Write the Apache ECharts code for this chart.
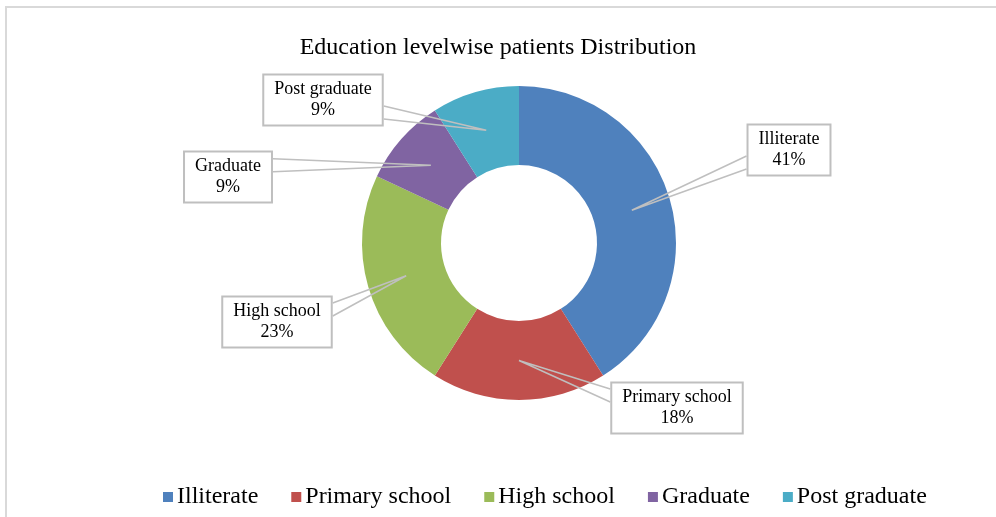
<!DOCTYPE html>
<html>
<head>
<meta charset="utf-8">
<script src="https://cdn.jsdelivr.net/npm/echarts@6/dist/echarts.min.js"></script>
<style>
  html, body { margin: 0; padding: 0; background: #fff; }
  #chart { width: 996px; height: 517px; }
</style>
</head>
<body>
<div id="chart"></div>
<script>
// data (percent of patients)
const categories = ["Illiterate", "Primary school", "High school", "Graduate", "Post graduate"];
const shares = [41, 18, 23, 9, 9];
const colors = ["#4F81BD", "#C0504D", "#9BBB59", "#8064A2", "#4BACC6"];

// callout box centres (layout only)
const calloutPos = [[789, 150], [677, 408], [277, 322], [228, 177], [323, 100]];

const cx = 519, cy = 243, rIn = 78, rOut = 157;
const total = shares.reduce((a, b) => a + b, 0);

// tip of the callout pointer: middle of the ring at the slice's mid-angle
function tipPoint(idx) {
  let before = 0;
  for (let i = 0; i < idx; i++) before += shares[i];
  const mid = (before + shares[idx] / 2) / total * Math.PI * 2;
  const r = (rIn + rOut) / 2;
  return [cx + r * Math.sin(mid), cy - r * Math.cos(mid)];
}

const pieData = categories.map((name, i) => ({ name: name, value: shares[i] }));

const chart = echarts.init(document.getElementById("chart"));

chart.setOption({
  backgroundColor: "#fff",
  color: colors,
  textStyle: { fontFamily: "Liberation Serif" },
  title: {
    text: "Education levelwise patients Distribution",
    left: "center",
    top: 31,
    textStyle: { fontFamily: "Liberation Serif", fontSize: 24, fontWeight: "normal", color: "#000" },
  },
  legend: {
    bottom: 3,
    left: 158,
    icon: "rect",
    itemWidth: 10,
    itemHeight: 10,
    itemGap: 33,
    textStyle: { fontFamily: "Liberation Serif", fontSize: 24, color: "#000", padding: [0, 0, 0, -1] },
    data: categories,
  },
  graphic: [
    {
      type: "rect",
      shape: { x: 6, y: 7, width: 1000, height: 520 },
      style: { fill: null, stroke: "#d9d9d9", lineWidth: 2 },
      silent: true,
    },
  ],
  series: [
    {
      // the ring itself
      type: "pie",
      z: 2,
      center: [cx, cy],
      radius: [rIn, rOut],
      startAngle: 90,
      label: { show: false },
      labelLine: { show: false },
      emphasis: { disabled: true },
      data: pieData,
    },
    {
      // transparent copy on top, carries the callouts so the pointers sit over the ring
      type: "pie",
      z: 3,
      silent: true,
      center: [cx, cy],
      radius: [rIn, rOut],
      startAngle: 90,
      avoidLabelOverlap: false,
      itemStyle: { color: "rgba(0,0,0,0)" },
      label: {
        show: true,
        position: "outside",
        formatter: (p) => p.name + "\n" + Math.round(p.percent) + "%",
        fontFamily: "Liberation Serif",
        fontSize: 18,
        lineHeight: 21,
        color: "#000",
        align: "center",
        backgroundColor: "#fff",
        borderColor: "#bfbfbf",
        borderWidth: 2,
        padding: [4, 10, 3, 10],
      },
      labelLine: {
        show: true,
        lineStyle: { color: "#bfbfbf", width: 1.5 },
      },
      labelLayout: function (params) {
        const i = params.dataIndex;
        const pos = calloutPos[i];
        const w = params.labelRect.width, h = params.labelRect.height;
        const left = pos[0] - w / 2, right = pos[0] + w / 2;
        const top = pos[1] - h / 2, bottom = pos[1] + h / 2;
        const tip = tipPoint(i);
        const sideX = tip[0] < left ? left : right;
        const my = Math.min(Math.max(tip[1], top + 14), bottom - 14);
        return {
          x: pos[0],
          y: pos[1],
          align: "center",
          verticalAlign: "middle",
          labelLinePoints: [[sideX, my - 6.5], tip, [sideX, my + 6.5]],
        };
      },
      emphasis: { disabled: true },
      data: pieData,
    },
  ],
});
</script>
</body>
</html>
